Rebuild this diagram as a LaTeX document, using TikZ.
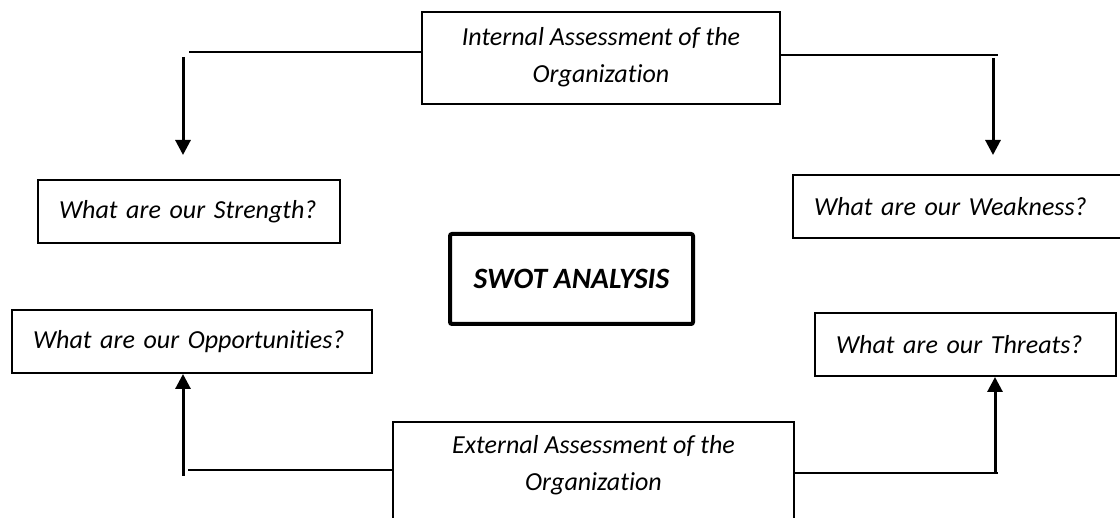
\documentclass[tikz,border=0pt]{standalone}
\usepackage{fontspec}
\setmainfont{Carlito}[Ligatures=NoCommon]
\usetikzlibrary{arrows.meta}
\tikzset{
  qbox/.style={draw, line width=2pt, inner xsep=21pt, inner ysep=0pt, align=left,
    font=\fontsize{26}{37}\selectfont\itshape},
  abox/.style={draw, line width=2pt, inner sep=0pt},
  atext/.style={align=center, font=\fontsize{26}{37}\selectfont\itshape},
  link/.style={line width=2.5pt},
  uparrow/.style={line width=3pt, -{Triangle[width=15pt,length=15pt]}}
}
\begin{document}
\begin{tikzpicture}[x=1pt,y=-1pt]
\useasboundingbox (0,0) rectangle (1120,518);
\clip (0,0) rectangle (1120,518);
% assessment boxes
\node (int) [abox, minimum width=358pt, minimum height=92pt] at (601,58) {};
\node (intt) [atext] at (601,57) {Internal Assessment of the\\Organization};
\node (ext) [abox, minimum width=401pt, minimum height=140pt, anchor=north] at (593.5,421) {};
\node (extt) [atext] at (593.5,465) {External Assessment of the\\Organization};
% question boxes
\node (str) [qbox, text width=260pt, minimum height=63pt] at (189,211.5) {What are our Strength?};
\node (wea) [qbox, text width=290pt, minimum height=63pt] at (959,206.5) {What are our Weakness?};
\node (opp) [qbox, text width=318pt, minimum height=63pt] at (192,341.5) {What are our Opportunities?};
\node (thr) [qbox, text width=259pt, minimum height=63pt] at (965.5,344.5) {What are our Threats?};
% centre
\node (swot) [draw, line width=4pt, rounded corners=2pt, minimum width=243pt, minimum height=90pt,
  font=\fontsize{29.5}{37}\selectfont\bfseries\itshape] at (571.5,279) {SWOT ANALYSIS};
% connectors
\coordinate (tlh) at (189,52);
\coordinate (tlv) at (183,57);
\coordinate (tla) at (183,155);
\coordinate (trh) at (998,55);
\coordinate (trv) at (993,58);
\coordinate (tra) at (993,155);
\coordinate (blh) at (188,470);
\coordinate (blv) at (183,476);
\coordinate (brh) at (998,473);
\coordinate (brv) at (995,474);
\draw[link] (int.west |- tlh) -- (tlh);
\draw[uparrow] (tlv) -- (tla);
\draw[link] (int.east |- trh) -- (trh);
\draw[uparrow] (trv) -- (tra);
\draw[link] (ext.west |- blh) -- (blh);
\draw[uparrow] (blv) -- (opp.south -| blv);
\draw[link] (ext.east |- brh) -- (brh);
\draw[uparrow] (brv) -- (thr.south -| brv);
\end{tikzpicture}
\end{document}
